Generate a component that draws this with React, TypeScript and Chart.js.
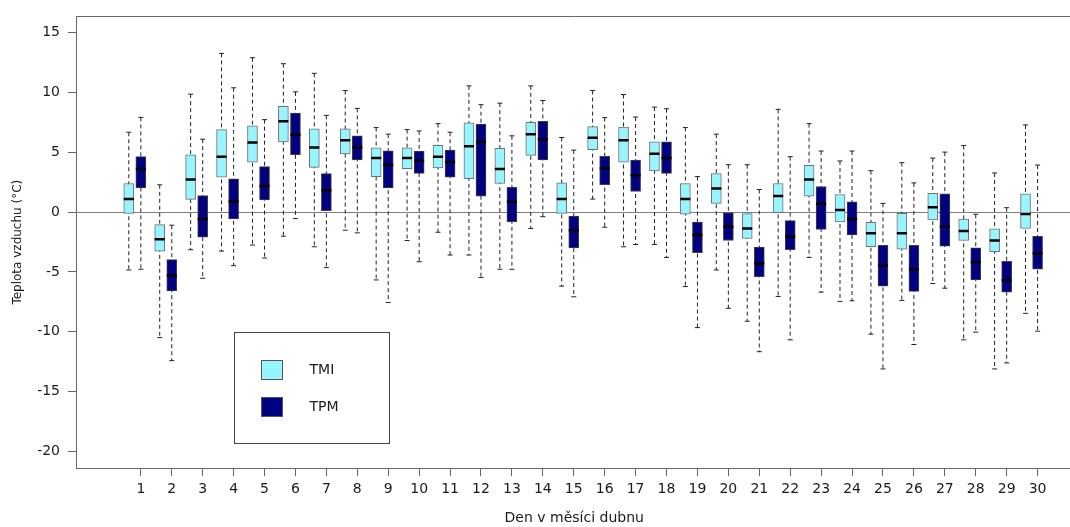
import { useEffect, useRef } from "react";
import { Chart, registerables } from "chart.js";

Chart.register(...registerables);

// ---- data ----
const days = [1, 2, 3, 4, 5, 6, 7, 8, 9, 10, 11, 12, 13, 14, 15, 16, 17, 18, 19, 20, 21, 22, 23, 24, 25, 26, 27, 28, 29, 30];
const seriesNames = ["TMI", "TPM"];

const tmiMax = [6.66, 2.27, 9.84, 13.24, 12.88, 12.38, 11.58, 10.14, 7.05, 6.88, 7.38, 10.53, 9.09, 10.53, 6.22, 10.14, 9.81, 8.76, 7.05, 6.5, 3.95, 8.57, 7.38, 4.26, 3.45, 4.12, 4.5, 5.56, 3.26, 7.27];
const tmiQ3 = [2.38, -1.05, 4.78, 6.88, 7.19, 8.82, 6.94, 6.94, 5.36, 5.36, 5.56, 7.44, 5.31, 7.49, 2.43, 7.13, 7.08, 5.86, 2.38, 3.21, -0.14, 2.38, 3.9, 1.46, -0.86, -0.11, 1.55, -0.58, -1.41, 1.52];
const tmiMed = [1.08, -2.27, 2.71, 4.62, 5.8, 7.57, 5.39, 6.0, 4.5, 4.5, 4.62, 5.5, 3.59, 6.5, 1.08, 6.19, 6.0, 4.86, 1.08, 1.96, -1.38, 1.33, 2.71, 0.17, -1.77, -1.77, 0.39, -1.58, -2.38, -0.17];
const tmiQ1 = [-0.11, -3.26, 1.05, 2.9, 4.17, 5.86, 3.73, 4.86, 2.96, 3.62, 3.68, 2.79, 2.38, 4.73, -0.11, 5.2, 4.17, 3.43, -0.19, 0.72, -2.21, -0.06, 1.33, -0.83, -2.9, -3.1, -0.66, -2.38, -3.32, -1.38];
const tmiMin = [-4.84, -10.48, -3.15, -3.26, -2.76, -2.02, -2.9, -1.52, -5.67, -2.38, -1.69, -3.59, -4.78, -1.38, -6.19, 1.08, -2.9, -2.71, -6.22, -4.84, -9.12, -7.05, -3.79, -7.46, -10.2, -7.38, -5.97, -10.67, -13.1, -8.46];

const tpmMax = [7.9, -1.1, 6.08, 10.37, 7.71, 10.03, 8.07, 8.65, 6.5, 6.77, 6.66, 8.96, 6.36, 9.31, 5.17, 7.88, 7.93, 8.62, 2.96, 3.95, 1.88, 4.62, 5.09, 5.09, 0.72, 2.43, 5.0, -0.19, 0.36, 3.92];
const tpmQ3 = [4.62, -3.98, 1.38, 2.76, 3.79, 8.26, 3.21, 6.36, 5.11, 5.09, 5.17, 7.35, 2.07, 7.57, -0.33, 4.64, 4.34, 5.86, -0.83, 0.0, -2.93, -0.72, 2.13, 0.86, -2.79, -2.79, 1.52, -2.99, -4.12, -2.02];
const tpmMed = [3.59, -5.31, -0.58, 0.88, 2.18, 6.44, 1.82, 5.39, 3.92, 4.31, 4.17, 5.86, 0.86, 6.08, -1.52, 3.65, 3.07, 4.5, -1.91, -1.22, -4.28, -2.07, 0.69, -0.58, -4.48, -4.78, -1.22, -4.17, -5.69, -3.45];
const tpmQ1 = [2.02, -6.58, -2.1, -0.58, 1.0, 4.78, 0.11, 4.34, 2.02, 3.23, 2.9, 1.33, -0.83, 4.34, -2.99, 2.29, 1.71, 3.23, -3.4, -2.38, -5.39, -3.15, -1.46, -1.91, -6.19, -6.63, -2.85, -5.67, -6.69, -4.78];
const tpmMin = [-4.78, -12.41, -5.53, -4.48, -3.84, -0.55, -4.64, -1.74, -7.55, -4.15, -3.59, -5.47, -4.78, -0.39, -7.08, -1.27, -2.71, -3.79, -9.65, -8.04, -11.66, -10.67, -6.69, -7.41, -13.1, -11.06, -6.36, -10.03, -12.6, -9.95];

const yTicks = [-20, -15, -10, -5, 0, 5, 10, 15];

// ---- layout / style constants ----
const X_MIN = -1.097;
const X_MAX = 31.129;
const Y_MIN = -21.37;
const Y_MAX = 16.33;
const TMI_SHIFT = -0.39;
const TPM_SHIFT = 0;
const LEGEND_X = 4;
const LEGEND_Y = -10;

const TMI_FILL = "#98F5FF";
const TPM_FILL = "#000080";
const FONT = "'DejaVu Sans', 'Liberation Sans', Arial, sans-serif";
const TEXT = "#1a1a1a";
const AXIS = "#666666";

const boxData = (q1: number[], q3: number[], shift: number) =>
  days.map((d, i) => ({ x: d + shift, y: [q1[i], q3[i]] }));
const pointData = (vals: number[], shift: number) =>
  days.map((d, i) => ({ x: d + shift, y: vals[i] }));
const whiskerData = (lo: number[], hi: number[], shift: number) =>
  days.flatMap((d, i) => [
    { x: d + shift, y: hi[i] },
    { x: d + shift, y: lo[i] },
    { x: d + shift, y: null as number | null },
  ]);
const capData = (lo: number[], hi: number[], shift: number) =>
  days.flatMap((d, i) => [
    { x: d + shift, y: hi[i] },
    { x: d + shift, y: lo[i] },
  ]);

const framePlugin = {
  id: "frame",
  beforeDatasetsDraw(chart: any) {
    const { ctx, chartArea, scales } = chart;
    const y0 = Math.round(scales.y.getPixelForValue(0)) + 0.5;
    ctx.save();
    ctx.strokeStyle = "#808080";
    ctx.lineWidth = 1;
    ctx.beginPath();
    ctx.moveTo(chartArea.left, y0);
    ctx.lineTo(chartArea.right, y0);
    ctx.stroke();
    ctx.restore();
  },
  afterDraw(chart: any) {
    const { ctx, chartArea, scales } = chart;
    ctx.save();
    ctx.strokeStyle = AXIS;
    ctx.lineWidth = 1;
    const t = Math.round(chartArea.top) + 0.5;
    ctx.beginPath();
    ctx.moveTo(chartArea.left, t);
    ctx.lineTo(chartArea.right, t);
    ctx.stroke();

    // legend
    const L = Math.round(scales.x.getPixelForValue(LEGEND_X)) + 0.5;
    const T = Math.round(scales.y.getPixelForValue(LEGEND_Y)) + 0.5;
    const W = 155;
    const H = 111;
    ctx.fillStyle = "#ffffff";
    ctx.fillRect(L, T, W, H);
    ctx.strokeStyle = "#444444";
    ctx.strokeRect(L, T, W, H);
    const fills = [TMI_FILL, TPM_FILL];
    const rows = [28, 65];
    seriesNames.forEach((name, k) => {
      const top = T + rows[k];
      ctx.fillStyle = fills[k];
      ctx.fillRect(L + 27, top, 21, 19);
      ctx.strokeStyle = "#555555";
      ctx.strokeRect(L + 27, top, 21, 19);
      ctx.fillStyle = TEXT;
      ctx.font = `14px ${FONT}`;
      ctx.textAlign = "left";
      ctx.textBaseline = "middle";
      ctx.fillText(name, L + 75, top + 10);
    });
    ctx.restore();
  },
};

export default function App() {
  const ref = useRef<HTMLCanvasElement | null>(null);

  useEffect(() => {
    if (!ref.current) return;
    const chart = new Chart(ref.current, {
      type: "bar",
      data: {
        datasets: [
          {
            type: "line",
            label: "TMI median",
            data: pointData(tmiMed, TMI_SHIFT),
            showLine: false,
            pointStyle: "line",
            pointRadius: 5,
            pointBorderWidth: 2.5,
            pointBorderColor: "#000",
            order: 0,
          } as any,
          {
            type: "line",
            label: "TPM median",
            data: pointData(tpmMed, TPM_SHIFT),
            showLine: false,
            pointStyle: "line",
            pointRadius: 5,
            pointBorderWidth: 2.5,
            pointBorderColor: "#000",
            order: 0,
          } as any,
          {
            type: "line",
            label: "TMI caps",
            data: capData(tmiMin, tmiMax, TMI_SHIFT),
            showLine: false,
            pointStyle: "line",
            pointRadius: 2.5,
            pointBorderWidth: 1,
            pointBorderColor: "#222",
            order: 1,
          } as any,
          {
            type: "line",
            label: "TPM caps",
            data: capData(tpmMin, tpmMax, TPM_SHIFT),
            showLine: false,
            pointStyle: "line",
            pointRadius: 2.5,
            pointBorderWidth: 1,
            pointBorderColor: "#222",
            order: 1,
          } as any,
          {
            type: "bar",
            label: "TMI",
            data: boxData(tmiQ1, tmiQ3, TMI_SHIFT),
            backgroundColor: TMI_FILL,
            borderColor: "#707070",
            borderWidth: 1,
            borderSkipped: false,
            barThickness: 10,
            grouped: false,
            order: 2,
          } as any,
          {
            type: "bar",
            label: "TPM",
            data: boxData(tpmQ1, tpmQ3, TPM_SHIFT),
            backgroundColor: TPM_FILL,
            borderColor: "#404040",
            borderWidth: 1,
            borderSkipped: false,
            barThickness: 10,
            grouped: false,
            order: 2,
          } as any,
          {
            type: "line",
            label: "TMI whiskers",
            data: whiskerData(tmiMin, tmiMax, TMI_SHIFT),
            borderColor: "#222",
            borderWidth: 1,
            borderDash: [4, 3],
            pointRadius: 0,
            spanGaps: false,
            order: 3,
          } as any,
          {
            type: "line",
            label: "TPM whiskers",
            data: whiskerData(tpmMin, tpmMax, TPM_SHIFT),
            borderColor: "#222",
            borderWidth: 1,
            borderDash: [4, 3],
            pointRadius: 0,
            spanGaps: false,
            order: 3,
          } as any,
        ],
      },
      options: {
        animation: false,
        responsive: false,
        devicePixelRatio: 1,
        events: [],
        layout: { padding: { left: 0, top: 14, right: 5, bottom: 0 } },
        plugins: {
          legend: { display: false },
          tooltip: { enabled: false },
        },
        scales: {
          x: {
            type: "linear",
            min: X_MIN,
            max: X_MAX,
            offset: false,
            afterBuildTicks: (scale: any) => {
              scale.ticks = days.map((d) => ({ value: d }));
            },
            afterFit: (scale: any) => {
              scale.height = 59;
            },
            grid: {
              display: true,
              drawOnChartArea: false,
              drawTicks: true,
              tickLength: 8,
              color: AXIS,
              offset: false,
            },
            border: { display: true, color: AXIS, width: 1 },
            ticks: {
              autoSkip: false,
              maxRotation: 0,
              minRotation: 0,
              padding: 5,
              color: TEXT,
              font: { family: FONT, size: 14 },
              callback: (v: any) => String(v),
            },
            title: {
              display: true,
              text: "Den v měsíci dubnu",
              color: TEXT,
              font: { family: FONT, size: 14 },
              padding: { top: 0, bottom: 0 },
            },
          },
          y: {
            type: "linear",
            min: Y_MIN,
            max: Y_MAX,
            beginAtZero: false,
            afterBuildTicks: (scale: any) => {
              scale.ticks = yTicks.map((v) => ({ value: v }));
            },
            afterFit: (scale: any) => {
              scale.width = 76;
            },
            grid: {
              display: true,
              drawOnChartArea: false,
              drawTicks: true,
              tickLength: 8,
              color: AXIS,
            },
            border: { display: true, color: AXIS, width: 1 },
            ticks: {
              padding: 8,
              color: TEXT,
              font: { family: FONT, size: 14 },
              callback: (v: any) => String(v),
            },
            title: {
              display: true,
              text: "Teplota vzduchu (°C)",
              color: TEXT,
              font: { family: FONT, size: 12 },
              padding: { top: 11, bottom: 0 },
            },
          },
        },
      },
      plugins: [framePlugin],
    } as any);
    return () => chart.destroy();
  }, []);

  return (
    <div
      style={{
        position: "fixed",
        left: 0,
        top: 0,
        width: 1070,
        height: 527,
        overflow: "hidden",
        background: "#ffffff",
      }}
    >
      <canvas ref={ref} width={1080} height={527} style={{ display: "block" }} />
    </div>
  );
}
